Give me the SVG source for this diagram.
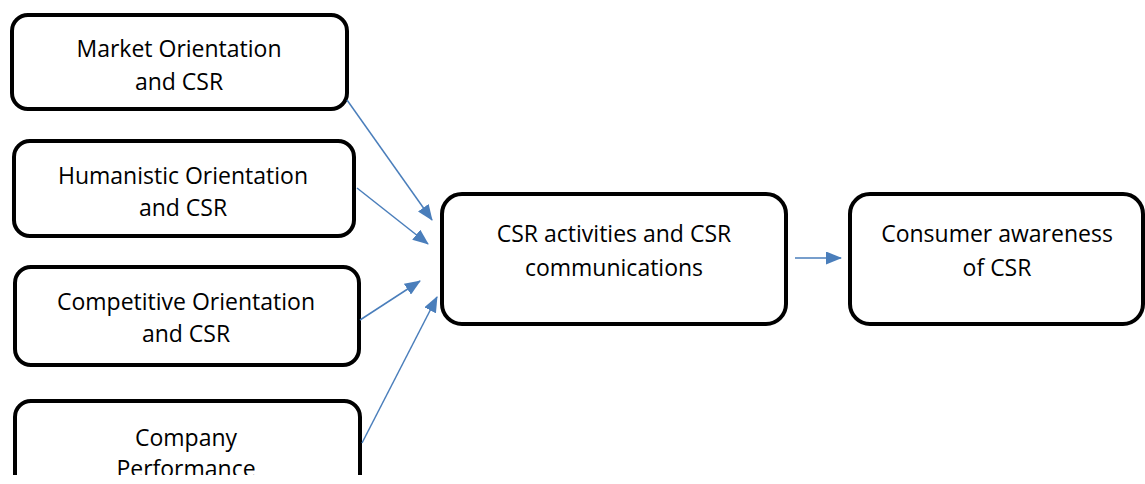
<svg xmlns="http://www.w3.org/2000/svg" width="1145" height="484" viewBox="0 0 1145 484">
<style>
.box{fill:#fff;stroke:#000;stroke-width:4}
.t{font-family:"Open Sans","Liberation Sans",Arial,sans-serif;font-size:23px;fill:#000;text-anchor:middle}
.c{stroke:#4a7ebb;stroke-width:1.5;fill:none;marker-end:url(#ah)}
</style>
<defs>
<marker id="ah" viewBox="0 0 16 13" refX="15" refY="6.5" markerWidth="16" markerHeight="13" markerUnits="userSpaceOnUse" orient="auto">
<path d="M0,0 L16,6.5 L0,13 z" fill="#4a7ebb"/>
</marker>
<clipPath id="clip"><rect x="0" y="0" width="1145" height="475"/></clipPath>
</defs>
<rect width="1145" height="484" fill="#fff"/>
<g clip-path="url(#clip)">
<g id="n1"><rect class="box" x="12" y="15" width="335" height="94" rx="16"/><text class="t" x="179" y="57">Market Orientation</text><text class="t" x="179" y="90">and CSR</text></g>
<g id="n2"><rect class="box" x="14" y="141" width="340" height="95" rx="16"/><text class="t" x="183" y="184">Humanistic Orientation</text><text class="t" x="183" y="216">and CSR</text></g>
<g id="n3"><rect class="box" x="15" y="267" width="344" height="98" rx="16"/><text class="t" x="186" y="310">Competitive Orientation</text><text class="t" x="186" y="342">and CSR</text></g>
<g id="n4"><rect class="box" x="15" y="401" width="345" height="110" rx="16"/><text class="t" x="186" y="446">Company</text><text class="t" x="186" y="477">Performance</text></g>
<g id="n5"><rect class="box" x="442" y="194" width="344" height="130" rx="20"/><text class="t" x="614" y="242">CSR activities and CSR</text><text class="t" x="614" y="276">communications</text></g>
<g id="n6"><rect class="box" x="850" y="194" width="293" height="130" rx="20"/><text class="t" x="997" y="242">Consumer awareness</text><text class="t" x="997" y="276">of CSR</text></g>
<g id="connectors">
<path class="c" d="M347,100 L432,220"/>
<path class="c" d="M357,188 L428,244"/>
<path class="c" d="M360,320 L420,281"/>
<path class="c" d="M362,443 L437,297"/>
<path class="c" d="M795,258 L841,258"/>
</g>
</g>
</svg>
